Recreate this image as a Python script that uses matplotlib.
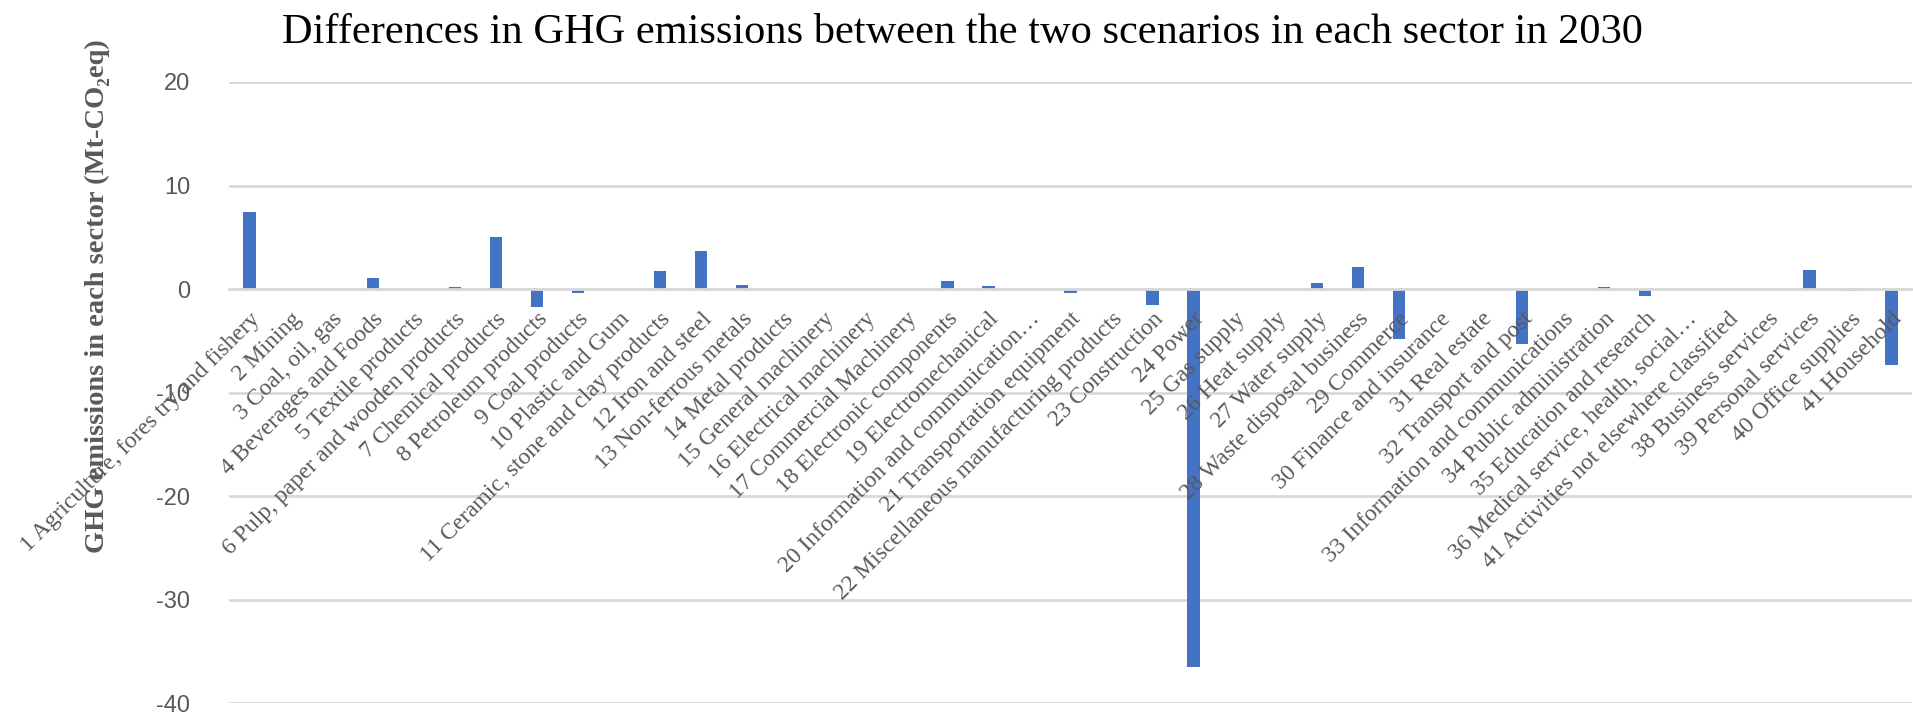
import numpy as np
import matplotlib.pyplot as plt

sectors = [
    '1 Agriculture, fores try and fishery', '2 Mining', '3 Coal, oil, gas',
    '4 Beverages and Foods', '5 Textile products', '6 Pulp, paper and wooden products',
    '7 Chemical products', '8 Petroleum products', '9 Coal products',
    '10 Plastic and Gum', '11 Ceramic, stone and clay products', '12 Iron and steel',
    '13 Non-ferrous metals', '14 Metal products', '15 General machinery',
    '16 Electrical machinery', '17 Commercial Machinery', '18 Electronic components',
    '19 Electromechanical', '20 Information and communication\u2026',
    '21 Transportation equipment', '22 Miscellaneous manufacturing products',
    '23 Construction', '24 Power', '25 Gas supply', '26 Heat supply',
    '27 Water supply', '28 Waste disposal business', '29 Commerce',
    '30 Finance and insurance', '31 Real estate', '32 Transport and post',
    '33 Information and communications', '34 Public administration',
    '35 Education and research', '36 Medical service, health, social\u2026',
    '41 Activities not elsewhere classified', '38 Business services',
    '39 Personal services', '40 Office supplies', '41 Household',
]

# difference in 2030 (Mt-CO2eq)
diff = [7.4, 0, 0, 1.1, 0, 0.2, 5.0, -1.75, -0.35, 0,
        1.7, 3.7, 0.4, 0, 0, 0, 0, 0.75, 0.3, 0,
        -0.35, 0, -1.5, -36.5, 0, 0, 0.6, 2.1, -4.85, 0,
        0, -5.3, 0, 0.15, -0.65, 0, 0, 0, 1.8, -0.2, -7.3]

yticks = [-40, -30, -20, -10, 0, 10, 20]

gray = '#595959'
grid_c = '#d9d9d9'
serif = ['Liberation Serif', 'DejaVu Serif']

fig = plt.figure(figsize=(19.13, 7.14), dpi=100)
ax = fig.add_axes([229 / 1913, 1 - 703 / 714, (1912 - 229) / 1913, (703 - 82) / 714])

x = np.arange(len(sectors))
ax.bar(x, diff, width=0.3, color='#4472C4', zorder=2)

ax.set_xlim(-0.5, len(sectors) - 0.5)
ax.set_ylim(-40, 20)
ax.set_yticks(yticks)
ax.set_yticklabels([str(v) for v in yticks], fontsize=17, color=gray,
                   family=['Liberation Sans', 'DejaVu Sans'])
ax.tick_params(axis='y', length=0, pad=28)
ax.yaxis.grid(True, color=grid_c, linewidth=2)

for s in ['top', 'right', 'left']:
    ax.spines[s].set_visible(False)
ax.spines['bottom'].set_position(('data', 0))
ax.spines['bottom'].set_color(grid_c)
ax.spines['bottom'].set_linewidth(2)

ax.set_xticks(x)
ax.set_xticklabels(sectors, fontsize=17, color=gray, family=serif)
ax.tick_params(axis='x', length=0, pad=14)
plt.setp(ax.get_xticklabels(), rotation=45, ha='right', rotation_mode='anchor')
# sector names are written over the bars, like in the original
ax.xaxis.set_zorder(3)

fig.text(97 / 1913, 1 - 296 / 714, 'GHG emissions in each sector (Mt-CO\u2082eq)',
         rotation=90, ha='center', va='center', fontsize=20.5, fontweight='bold',
         color=gray, family=serif)

fig.text(962 / 1913, 1 - 43 / 714,
         'Differences in GHG emissions between the two scenarios in each sector in 2030',
         ha='center', va='baseline', fontsize=30.5, color='black', family=serif)

fig.savefig('out.png', dpi=100)
